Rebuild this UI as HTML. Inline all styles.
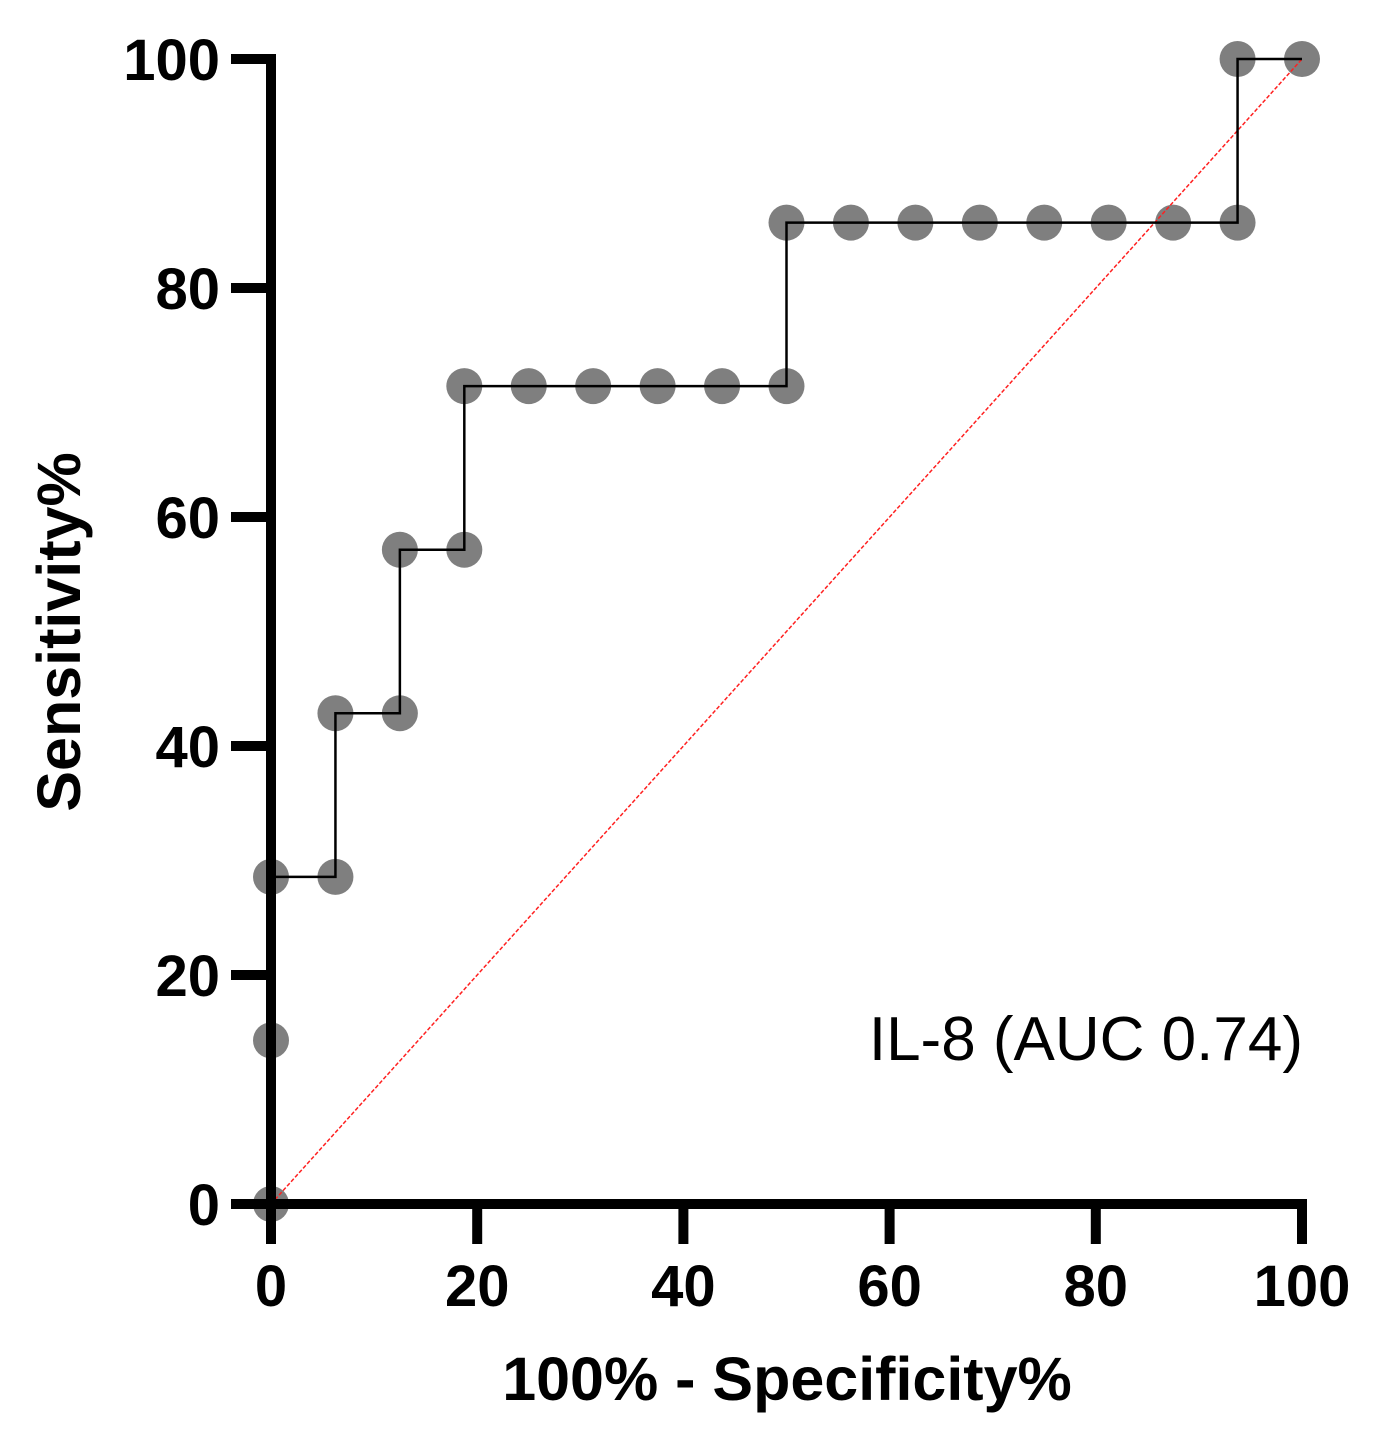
<!DOCTYPE html>
<html><head><meta charset="utf-8"><style>
html,body{margin:0;padding:0;background:#fff;}
svg{display:block;font-family:"Liberation Sans",Arial,sans-serif;}
</style></head><body>
<svg id="chart" width="1375" height="1446" viewBox="0 0 1375 1446">
<g id="plot"></g>
</svg>
<script>
const xVals=[0,0,0,6.25,6.25,12.5,12.5,18.75,18.75,25,31.25,37.5,43.75,50,50,56.25,62.5,68.75,75,81.25,87.5,93.75,93.75,100];
const yVals=[0,14.29,28.57,28.57,42.86,42.86,57.14,57.14,71.43,71.43,71.43,71.43,71.43,71.43,85.71,85.71,85.71,85.71,85.71,85.71,85.71,85.71,100,100];
const xTicks=[0,20,40,60,80,100];
const yTicks=[0,20,40,60,80,100];
const NS="http://www.w3.org/2000/svg";
const X0=271,X1=1302,Y0=1204,Y1=59;
function sx(v){return X0+(X1-X0)*v/100;}
function sy(v){return Y0-(Y0-Y1)*v/100;}
const g=document.getElementById('plot');
function mk(t,a,p){const e=document.createElementNS(NS,t);for(const k in a)e.setAttribute(k,a[k]);(p||g).appendChild(e);return e;}
for(let i=0;i<xVals.length;i++){
  const c=mk('circle',{cx:sx(xVals[i]),cy:sy(yVals[i]),r:18,fill:'#7f7f7f'});
  
  
}
const d=mk('line',{x1:sx(0),y1:sy(0),x2:sx(100),y2:sy(100),stroke:'#ff2020','stroke-width':1.5,'stroke-dasharray':'4,2'});


let pts=xVals.map((x,i)=>sx(x)+','+sy(yVals[i])).join(' ');
const pl=mk('polyline',{points:pts,fill:'none',stroke:'#000','stroke-width':2.5});


const ya=mk('line',{x1:X0,y1:Y1-5,x2:X0,y2:Y0+40,stroke:'#000','stroke-width':10});


const xa=mk('line',{x1:231,y1:Y0,x2:X1+5,y2:Y0,stroke:'#000','stroke-width':10});


yTicks.forEach(v=>{
  const t=mk('line',{x1:231,y1:sy(v),x2:X0,y2:sy(v),stroke:'#000','stroke-width':10});
  
  
  const l=mk('text',{x:220,y:sy(v)+21,'text-anchor':'end','font-size':58,'font-weight':'bold'});
  l.textContent=v;
  
  
});
xTicks.forEach(v=>{
  const t=mk('line',{x1:sx(v),y1:Y0,x2:sx(v),y2:Y0+40,stroke:'#000','stroke-width':10});
  
  
  const l=mk('text',{x:sx(v),y:1306,'text-anchor':'middle','font-size':58,'font-weight':'bold'});
  l.textContent=v;
  
  
});
</script>
<svg width="1375" height="1446" style="position:absolute;left:0;top:0">
<text x="787" y="1400" text-anchor="middle" font-size="61" font-weight="bold" font-family="Liberation Sans,Arial,sans-serif">100% - Specificity%</text>
<text transform="translate(80,632) rotate(-90)" text-anchor="middle" font-size="61" font-weight="bold" font-family="Liberation Sans,Arial,sans-serif">Sensitivity%</text>
<text x="1303" y="1060" text-anchor="end" font-size="62" font-family="Liberation Sans,Arial,sans-serif">IL-8 (AUC 0.74)</text>
</svg>
</body></html>
